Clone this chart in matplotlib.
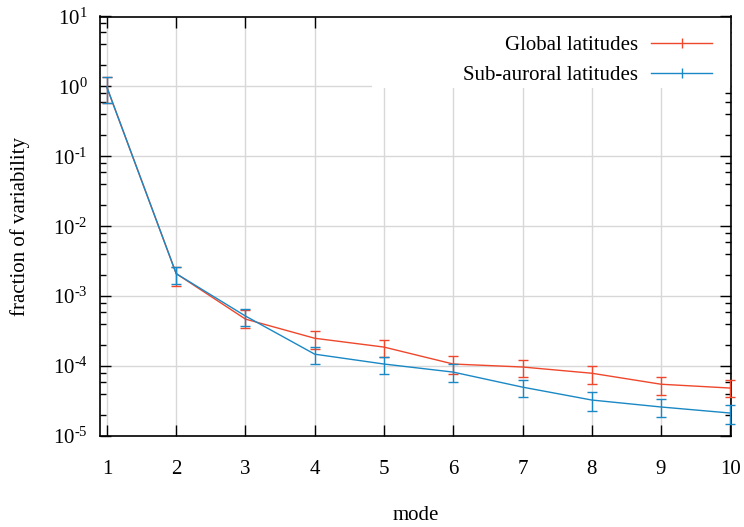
import matplotlib
matplotlib.use("Agg")
import matplotlib.pyplot as plt
from matplotlib.ticker import LogLocator, FixedLocator, NullFormatter, FuncFormatter
from matplotlib.lines import Line2D
from matplotlib.patches import Rectangle
import numpy as np

plt.rcParams['font.family'] = ['Liberation Serif', 'DejaVu Serif']
plt.rcParams['mathtext.fontset'] = 'custom'
plt.rcParams['mathtext.rm'] = 'Liberation Serif'
plt.rcParams['mathtext.it'] = 'Liberation Serif:italic'

modes = [1, 2, 3, 4, 5, 6, 7, 8, 9, 10]
global_vals = [0.97, 2.1e-3, 4.7e-4, 2.5e-4, 1.87e-4, 1.07e-4, 9.7e-5, 7.9e-5, 5.5e-5, 4.85e-5]
global_hi = [1.35, 2.6e-3, 6.3e-4, 3.2e-4, 2.4e-4, 1.39e-4, 1.24e-4, 1.0e-4, 7.0e-5, 6.4e-5]
global_lo = [0.57, 1.4e-3, 3.5e-4, 1.75e-4, 1.35e-4, 7.7e-5, 7.0e-5, 5.5e-5, 3.9e-5, 3.6e-5]
sub_vals = [0.97, 2.1e-3, 5.2e-4, 1.48e-4, 1.07e-4, 8.2e-5, 5.0e-5, 3.27e-5, 2.6e-5, 2.13e-5]
sub_hi = [1.35, 2.6e-3, 6.5e-4, 1.9e-4, 1.35e-4, 1.07e-4, 6.4e-5, 4.2e-5, 3.4e-5, 2.8e-5]
sub_lo = [0.57, 1.5e-3, 3.7e-4, 1.07e-4, 7.7e-5, 5.9e-5, 3.6e-5, 2.3e-5, 1.9e-5, 1.5e-5]
labels = ['Global latitudes', 'Sub-auroral latitudes']

red = '#ef472c'
blue = '#1a88c4'
FS = 15

fig = plt.figure(figsize=(7.44, 5.27), dpi=100)
ax = fig.add_axes([100/744, 1-436/527, (731-100)/744, (436-16.5)/527])

for vals, hi, lo, col, z in [(global_vals, global_hi, global_lo, red, 3),
                             (sub_vals, sub_hi, sub_lo, blue, 4)]:
    yerr = [[v - l for v, l in zip(vals, lo)], [h - v for v, h in zip(vals, hi)]]
    cont = ax.errorbar(modes, vals, yerr=yerr, color=col, lw=1.0, elinewidth=1.0,
                       capsize=3.8, capthick=1.0, zorder=z)
    for ch in cont.get_children():
        ch.set_clip_on(False)

ax.set_yscale('log')
ax.set_xlim(0.9, 10.01)
ax.set_ylim(1e-5, 1e1)
ax.xaxis.set_major_locator(FixedLocator(modes))
ax.yaxis.set_major_locator(LogLocator(base=10, numticks=20))
ax.yaxis.set_minor_locator(LogLocator(base=10, subs=[2, 4, 6, 8], numticks=20))
ax.yaxis.set_minor_formatter(NullFormatter())

def yfmt(v, pos):
    e = int(round(np.log10(v)))
    if e < 0:
        return r'$10^{\text{-}%d}$' % (-e)
    return r'$10^{%d}$' % e

ax.yaxis.set_major_formatter(FuncFormatter(yfmt))
ax.grid(True, which='major', color='#d8d8d8', lw=1.0, zorder=0)
ax.set_axisbelow(True)
ax.tick_params(which='both', direction='in', top=True, right=True, labelsize=FS, width=1.0)
ax.tick_params(axis='x', which='major', length=8, pad=17)
ax.tick_params(axis='y', which='major', length=8, pad=9)
ax.tick_params(which='minor', length=4)
for s in ax.spines.values():
    s.set_linewidth(1.2)

ax.set_xlabel('mode', fontsize=FS, labelpad=20)
ax.set_ylabel('fraction of variability', fontsize=FS, labelpad=16)

# white legend background box (covers grid)
ax.add_patch(Rectangle((372, 527-88), 731-372, 88-17, transform=None,
                       facecolor='white', edgecolor='none', zorder=1))

handles = [Line2D([], [], color=red, lw=1.0, marker='|', markersize=7, markeredgewidth=1.0),
           Line2D([], [], color=blue, lw=1.0, marker='|', markersize=7, markeredgewidth=1.0)]
leg = ax.legend(handles, labels, loc='upper right',
                markerfirst=False, frameon=False, fontsize=FS, handlelength=2.93,
                handletextpad=0.63, borderaxespad=0.9, borderpad=0.0,
                labelspacing=0.5)
leg.set_zorder(5)

fig.savefig('out.png', dpi=100)
